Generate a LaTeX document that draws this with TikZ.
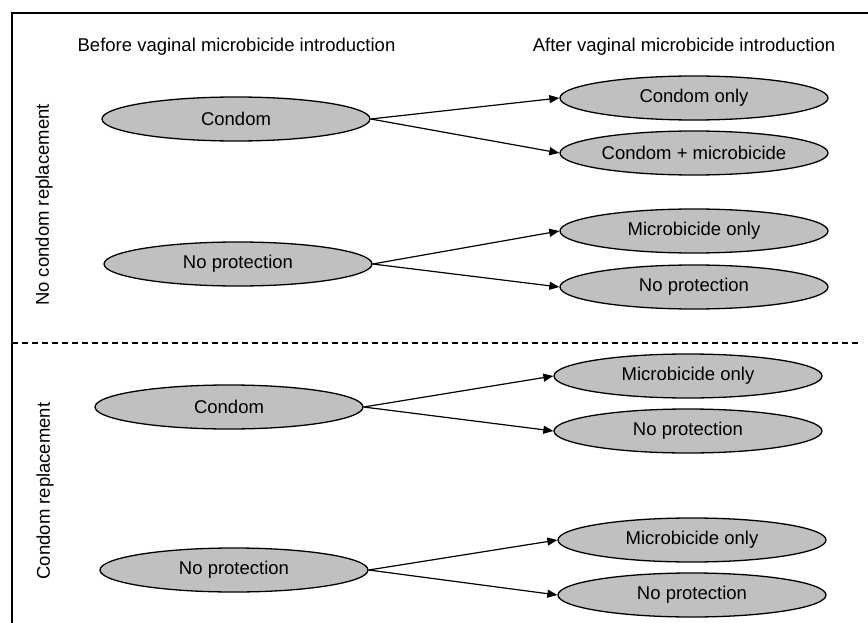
\documentclass[tikz,border=0pt]{standalone}
\usepackage{fontspec}
\setmainfont{Liberation Sans}
\usetikzlibrary{shapes.geometric,arrows.meta}
\definecolor{ellfill}{RGB}{192,192,192}
\begin{document}
\begin{tikzpicture}[x=1pt,y=-1pt,
  every node/.style={font=\fontsize{18.5}{22}\selectfont},
  oval/.style={ellipse,draw=black,fill=ellfill,line width=1.3pt,minimum width=268pt,minimum height=44pt,inner sep=0pt},
  conn/.style={line width=1.2pt,-{Triangle[length=10pt,width=8pt]}},
  frame/.style={line width=1.6pt}]
\useasboundingbox (0,0) rectangle (868,623);
% frame
\coordinate (fbl) at (12,630);
\coordinate (ftl) at (12,13);
\coordinate (ftr) at (875,13);
\draw[frame] (fbl) -- (ftl) -- (ftr);
\coordinate (dl) at (12,343);
\coordinate (dr) at (862,343);
\draw[line width=1.2pt,dash pattern=on 6pt off 4pt] (dl) -- (dr);
% headers
\node (hb) at (236.5,47) {Before vaginal microbicide introduction};
\node (ha) at (684,47) {After vaginal microbicide introduction};
\node[rotate=90] (l1) at (44,205) {No condom replacement};
\node[rotate=90] (l2) at (45,491) {Condom replacement};
% left ellipses
\node[oval] (c1) at (236,119) {Condom};
\node[oval] (n1) at (238,264) {No protection};
\node[oval] (c2) at (229,407) {Condom};
\node[oval] (n2) at (234,570) {No protection};
% right ellipses
\node[oval] (co) at (694,98) {Condom only};
\node[oval] (cm) at (694,153) {Condom + microbicide};
\node[oval] (mo1) at (694,231) {Microbicide only};
\node[oval] (np1) at (694,287) {No protection};
\node[oval] (mo2) at (688,376) {Microbicide only};
\node[oval] (np2) at (688,431) {No protection};
\node[oval] (mo3) at (692,540) {Microbicide only};
\node[oval] (np3) at (692,595) {No protection};
% connectors
\draw[conn] (c1.east) -- (co.west);
\draw[conn] (c1.east) -- (cm.west);
\draw[conn] (n1.east) -- (mo1.west);
\draw[conn] (n1.east) -- (np1.west);
\draw[conn] (c2.east) -- (mo2.west);
\draw[conn] (c2.east) -- (np2.west);
\draw[conn] (n2.east) -- (mo3.west);
\draw[conn] (n2.east) -- (np3.west);
\end{tikzpicture}
\end{document}
